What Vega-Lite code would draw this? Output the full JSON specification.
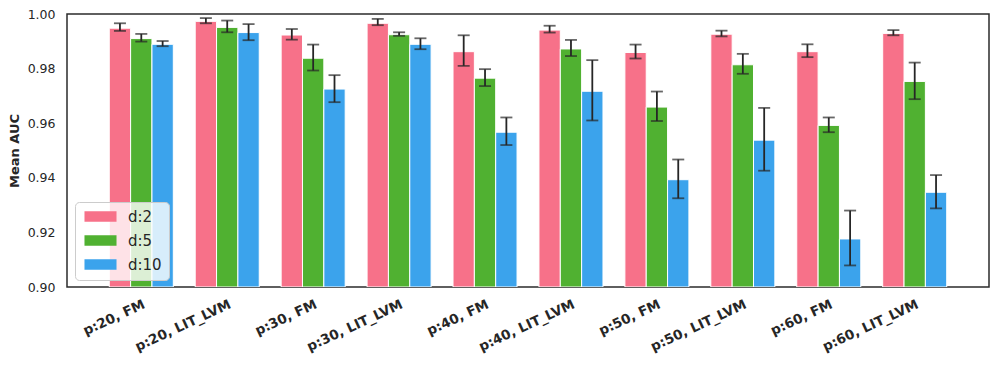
{
  "$schema": "https://vega.github.io/schema/vega-lite/v6.json",
  "width": 922,
  "height": 273,
  "autosize": {"type": "none"},
  "padding": {"left": 67, "top": 14, "right": 8, "bottom": 78},
  "background": "white",
  "config": {
    "font": "DejaVu Sans",
    "view": {"stroke": "#2b2b2b", "strokeWidth": 1.5},
    "axis": {"grid": false, "domain": false, "ticks": false, "labelColor": "#262626", "titleColor": "#262626"}
  },
  "data": {"values": [
    {"group": "p:20, FM", "d": "d:2", "mean": 0.9948, "lo": 0.9938, "hi": 0.9966},
    {"group": "p:20, FM", "d": "d:5", "mean": 0.9910, "lo": 0.9899, "hi": 0.9927},
    {"group": "p:20, FM", "d": "d:10", "mean": 0.9889, "lo": 0.9882, "hi": 0.9901},
    {"group": "p:20, LIT_LVM", "d": "d:2", "mean": 0.9973, "lo": 0.9966, "hi": 0.9985},
    {"group": "p:20, LIT_LVM", "d": "d:5", "mean": 0.9951, "lo": 0.9933, "hi": 0.9976},
    {"group": "p:20, LIT_LVM", "d": "d:10", "mean": 0.9932, "lo": 0.9904, "hi": 0.9963},
    {"group": "p:30, FM", "d": "d:2", "mean": 0.9923, "lo": 0.9906, "hi": 0.9945},
    {"group": "p:30, FM", "d": "d:5", "mean": 0.9838, "lo": 0.9793, "hi": 0.9888},
    {"group": "p:30, FM", "d": "d:10", "mean": 0.9725, "lo": 0.9677, "hi": 0.9776},
    {"group": "p:30, LIT_LVM", "d": "d:2", "mean": 0.9966, "lo": 0.9959, "hi": 0.9982},
    {"group": "p:30, LIT_LVM", "d": "d:5", "mean": 0.9924, "lo": 0.9920, "hi": 0.9933},
    {"group": "p:30, LIT_LVM", "d": "d:10", "mean": 0.9889, "lo": 0.9871, "hi": 0.9911},
    {"group": "p:40, FM", "d": "d:2", "mean": 0.9862, "lo": 0.9810, "hi": 0.9922},
    {"group": "p:40, FM", "d": "d:5", "mean": 0.9765, "lo": 0.9736, "hi": 0.9798},
    {"group": "p:40, FM", "d": "d:10", "mean": 0.9567, "lo": 0.9520, "hi": 0.9621},
    {"group": "p:40, LIT_LVM", "d": "d:2", "mean": 0.9941, "lo": 0.9932, "hi": 0.9957},
    {"group": "p:40, LIT_LVM", "d": "d:5", "mean": 0.9872, "lo": 0.9846, "hi": 0.9905},
    {"group": "p:40, LIT_LVM", "d": "d:10", "mean": 0.9717, "lo": 0.9610, "hi": 0.9831},
    {"group": "p:50, FM", "d": "d:2", "mean": 0.9859, "lo": 0.9837, "hi": 0.9888},
    {"group": "p:50, FM", "d": "d:5", "mean": 0.9659, "lo": 0.9608, "hi": 0.9716},
    {"group": "p:50, FM", "d": "d:10", "mean": 0.9393, "lo": 0.9325, "hi": 0.9467},
    {"group": "p:50, LIT_LVM", "d": "d:2", "mean": 0.9926, "lo": 0.9918, "hi": 0.9939},
    {"group": "p:50, LIT_LVM", "d": "d:5", "mean": 0.9814, "lo": 0.9781, "hi": 0.9854},
    {"group": "p:50, LIT_LVM", "d": "d:10", "mean": 0.9538, "lo": 0.9426, "hi": 0.9656},
    {"group": "p:60, FM", "d": "d:2", "mean": 0.9862, "lo": 0.9842, "hi": 0.9889},
    {"group": "p:60, FM", "d": "d:5", "mean": 0.9592, "lo": 0.9567, "hi": 0.9621},
    {"group": "p:60, FM", "d": "d:10", "mean": 0.9176, "lo": 0.9079, "hi": 0.9280},
    {"group": "p:60, LIT_LVM", "d": "d:2", "mean": 0.9929, "lo": 0.9922, "hi": 0.9941},
    {"group": "p:60, LIT_LVM", "d": "d:5", "mean": 0.9753, "lo": 0.9688, "hi": 0.9822},
    {"group": "p:60, LIT_LVM", "d": "d:10", "mean": 0.9347, "lo": 0.9288, "hi": 0.9410}
  ]},
  "encoding": {
    "x": {
      "field": "group", "type": "nominal", "sort": null,
      "scale": {"paddingInner": 0.255, "paddingOuter": 0.492},
      "axis": {"title": null, "labelAngle": -25, "labelAlign": "right", "labelBaseline": "top", "labelPadding": 10, "labelFontSize": 13.5, "labelFontWeight": "bold"}
    },
    "xOffset": {"field": "d", "type": "nominal", "sort": ["d:2", "d:5", "d:10"], "scale": {"paddingInner": 0, "paddingOuter": 0}}
  },
  "layer": [
    {
      "mark": {"type": "bar", "stroke": "white", "strokeWidth": 1, "clip": true},
      "encoding": {
        "y": {
          "field": "mean", "type": "quantitative",
          "scale": {"domain": [0.9, 1.0], "zero": false, "nice": false},
          "axis": {"title": "Mean AUC", "titleFontSize": 13, "titleFontWeight": "bold", "titlePadding": 6, "values": [0.9, 0.92, 0.94, 0.96, 0.98, 1.0], "format": ".2f", "labelFontSize": 12.5, "labelPadding": 12}
        },
        "y2": {"datum": 0.9},
        "color": {
          "field": "d", "type": "nominal",
          "scale": {"domain": ["d:2", "d:5", "d:10"], "range": ["#f77189", "#50b131", "#3ba3ec"]},
          "legend": {
            "title": null, "orient": "none", "legendX": 8, "legendY": 188,
            "fillColor": "rgba(255,255,255,0.8)", "strokeColor": "#cccccc", "cornerRadius": 4, "padding": 7,
            "symbolType": "M-3,-1H3V1H-3Z", "symbolSize": 114, "symbolOffset": 11, "symbolStrokeWidth": 0, "symbolOpacity": 1,
            "labelFontSize": 15, "labelColor": "#262626", "labelOffset": 20, "rowPadding": 8
          }
        }
      }
    },
    {
      "mark": {"type": "rule", "color": "#262626", "strokeWidth": 1.8},
      "encoding": {
        "y": {"field": "lo", "type": "quantitative"},
        "y2": {"field": "hi"}
      }
    },
    {
      "mark": {"type": "tick", "color": "#262626", "thickness": 1.8, "size": 12},
      "encoding": {
        "y": {"field": "lo", "type": "quantitative"}
      }
    },
    {
      "mark": {"type": "tick", "color": "#262626", "thickness": 1.8, "size": 12},
      "encoding": {
        "y": {"field": "hi", "type": "quantitative"}
      }
    }
  ]
}
